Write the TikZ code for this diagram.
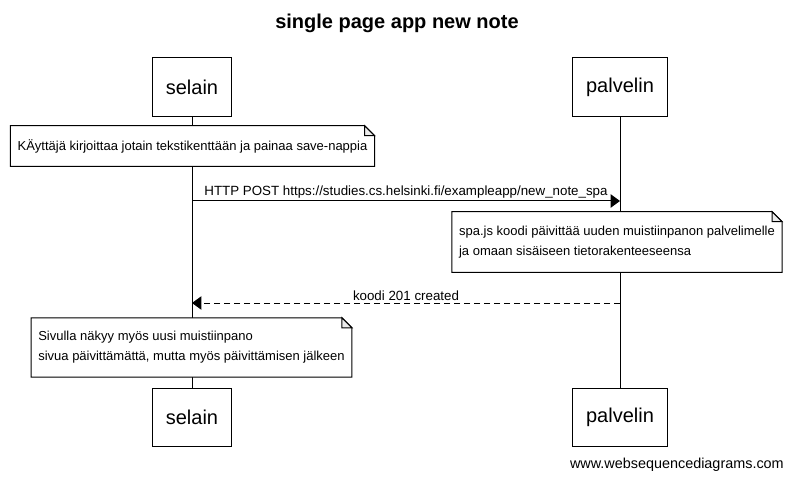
\documentclass[tikz,border=0pt]{standalone}
\usepackage{fontspec}
\setmainfont{Liberation Sans}
\usetikzlibrary{arrows.meta, positioning, backgrounds}

\newcommand{\notefold}[1]{%
  \filldraw[fill=white, line width=0.75pt] (#1.north west) -- ([xshift=-7.5pt]#1.north east)
    -- ([yshift=-7.5pt]#1.north east) -- (#1.south east) -- (#1.south west) -- cycle;
  \filldraw[fill=black!8, line width=0.75pt] ([xshift=-7.5pt]#1.north east)
    |- ([yshift=-7.5pt]#1.north east) -- cycle;}

\begin{document}
\begin{tikzpicture}[
    x=0.75pt, y=-0.75pt,
    actor/.style={rectangle, draw, fill=white, line width=0.75pt, inner xsep=10pt, minimum height=44pt, font=\fontsize{15}{18}\selectfont},
    note/.style={rectangle, align=left, inner xsep=5.25pt, inner ysep=0pt, font=\fontsize{9.75}{15}\selectfont},
    lifeline/.style={line width=0.75pt},
    msg/.style={-{Triangle[length=7pt, width=10pt]}, line width=0.75pt},
    reply/.style={msg, dashed, dash pattern=on 4.5pt off 3pt},
    label/.style={font=\fontsize{10}{12}\selectfont, inner sep=1.5pt}
]
\useasboundingbox (0,0) rectangle (793,481);

% Title
\node[font=\fontsize{15}{18}\selectfont\bfseries] (title) at (397,23) {single page app new note};

% Actors
\node[actor] (selainA) at (192,87) {selain};
\node[actor] (palvelinA) at (620,87) {palvelin};
\node[actor, below=203pt of selainA] (selainB) {selain};
\node[actor, below=203pt of palvelinA] (palvelinB) {palvelin};

% Notes
\node[note, minimum height=30pt] (kirjoitus) at (192.5,146) {KÄyttäjä kirjoittaa jotain tekstikenttään ja painaa save-nappia};
\node[note, minimum height=45pt] (tallennus) at (617,242) {spa.js koodi päivittää uuden muistiinpanon palvelimelle\\ja omaan sisäiseen tietorakenteeseensa};
\node[note, minimum height=44pt] (nakyma) at (191.5,347.5) {Sivulla näkyy myös uusi muistiinpano\\sivua päivittämättä, mutta myös päivittämisen jälkeen};

% Message ends
\coordinate (post-s) at (192,201);
\coordinate (post-p) at (620,201);
\coordinate (vastaus-p) at (620,303);
\coordinate (vastaus-s) at (192,303);

% Lifelines and note shapes
\begin{scope}[on background layer]
\draw[lifeline] (selainA) -- (selainB);
\draw[lifeline] (palvelinA) -- (palvelinB);
\notefold{kirjoitus}
\notefold{tallennus}
\notefold{nakyma}
\end{scope}

% Messages
\draw[msg] (post-s) -- (post-p) node[midway, above, label] {HTTP POST https://studies.cs.helsinki.fi/exampleapp/new\_note\_spa};
\draw[reply] (vastaus-p) -- (vastaus-s) node[midway, above, label] {koodi 201 created};

% Footer
\node[label, font=\fontsize{10.8}{13}\selectfont, anchor=east] (footer) at (786,465) {www.websequencediagrams.com};

\end{tikzpicture}
\end{document}
